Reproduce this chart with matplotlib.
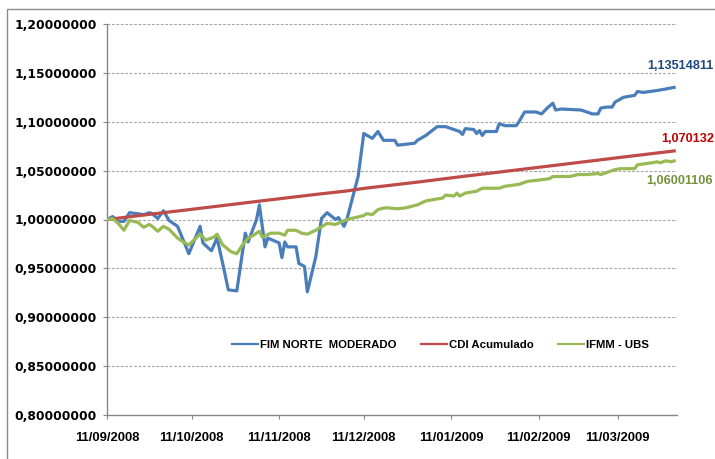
import pandas as pd
import matplotlib
matplotlib.use("Agg")
import matplotlib.pyplot as plt
import matplotlib.dates as mdates
from matplotlib.patches import Rectangle

# FIM NORTE MODERADO
fim_dates = ["2008-09-11", "2008-09-13", "2008-09-15", "2008-09-17", "2008-09-19",
             "2008-09-24", "2008-09-26", "2008-09-27", "2008-09-29", "2008-10-01",
             "2008-10-03", "2008-10-06", "2008-10-10", "2008-10-14", "2008-10-15",
             "2008-10-18", "2008-10-20", "2008-10-22", "2008-10-24", "2008-10-27",
             "2008-10-30", "2008-10-31", "2008-11-03", "2008-11-04", "2008-11-06",
             "2008-11-07", "2008-11-11", "2008-11-12", "2008-11-13", "2008-11-14",
             "2008-11-17", "2008-11-18", "2008-11-20", "2008-11-21", "2008-11-24",
             "2008-11-26", "2008-11-28", "2008-12-01", "2008-12-02", "2008-12-04",
             "2008-12-05", "2008-12-09", "2008-12-11", "2008-12-14", "2008-12-16",
             "2008-12-18", "2008-12-22", "2008-12-23", "2008-12-29", "2008-12-30",
             "2009-01-02", "2009-01-06", "2009-01-09", "2009-01-14", "2009-01-15",
             "2009-01-16", "2009-01-19", "2009-01-20", "2009-01-21", "2009-01-22",
             "2009-01-23", "2009-01-27", "2009-01-28", "2009-01-30", "2009-02-03",
             "2009-02-04", "2009-02-06", "2009-02-10", "2009-02-12", "2009-02-14",
             "2009-02-16", "2009-02-17", "2009-02-19", "2009-02-26", "2009-03-02",
             "2009-03-04", "2009-03-05", "2009-03-07", "2009-03-09", "2009-03-10",
             "2009-03-13", "2009-03-17", "2009-03-18", "2009-03-20", "2009-03-25",
             "2009-03-27", "2009-03-31"]
fim_values = [1.000, 1.003, 0.998, 0.998, 1.007,
              1.005, 1.007, 1.006, 1.001, 1.009,
              0.999, 0.993, 0.965, 0.993, 0.976,
              0.968, 0.981, 0.955, 0.928, 0.927,
              0.986, 0.977, 1.000, 1.015, 0.972,
              0.981, 0.976, 0.961, 0.977, 0.972,
              0.972, 0.955, 0.952, 0.926, 0.962,
              1.001, 1.007, 1.000, 1.002, 0.993,
              1.000, 1.044, 1.088, 1.083, 1.090,
              1.081, 1.081, 1.076, 1.078, 1.081,
              1.086, 1.095, 1.095, 1.090, 1.087,
              1.093, 1.092, 1.088, 1.091, 1.086,
              1.090, 1.090, 1.098, 1.096, 1.096,
              1.100, 1.110, 1.110, 1.108, 1.114,
              1.119, 1.112, 1.113, 1.112, 1.108,
              1.108, 1.114, 1.115, 1.115, 1.120,
              1.125, 1.127, 1.131, 1.130, 1.132,
              1.133, 1.13514811]

# CDI Acumulado
cdi_dates = ["2008-09-11", "2008-09-25", "2008-10-11", "2008-10-27", "2008-11-11",
             "2008-11-25", "2008-12-05", "2008-12-11", "2008-12-31", "2009-01-15",
             "2009-02-01", "2009-02-15", "2009-03-01", "2009-03-15", "2009-03-31"]
cdi_values = [1.000, 1.0049, 1.0104, 1.0160, 1.0212,
              1.0260, 1.0292, 1.0318, 1.0386, 1.0440,
              1.0499, 1.0548, 1.0597, 1.0646, 1.070132]

# IFMM - UBS
ifmm_dates = ["2008-09-11", "2008-09-13", "2008-09-15", "2008-09-17", "2008-09-19",
              "2008-09-22", "2008-09-24", "2008-09-26", "2008-09-27", "2008-09-29",
              "2008-10-01", "2008-10-03", "2008-10-06", "2008-10-08", "2008-10-10",
              "2008-10-14", "2008-10-16", "2008-10-19", "2008-10-20", "2008-10-22",
              "2008-10-25", "2008-10-27", "2008-10-29", "2008-10-31", "2008-11-02",
              "2008-11-04", "2008-11-05", "2008-11-08", "2008-11-11", "2008-11-13",
              "2008-11-14", "2008-11-17", "2008-11-19", "2008-11-21", "2008-11-24",
              "2008-11-28", "2008-12-01", "2008-12-05", "2008-12-08", "2008-12-11",
              "2008-12-12", "2008-12-14", "2008-12-16", "2008-12-17", "2008-12-19",
              "2008-12-23", "2008-12-26", "2008-12-30", "2009-01-02", "2009-01-06",
              "2009-01-08", "2009-01-09", "2009-01-12", "2009-01-13", "2009-01-14",
              "2009-01-16", "2009-01-20", "2009-01-22", "2009-01-26", "2009-01-28",
              "2009-01-30", "2009-02-04", "2009-02-07", "2009-02-13", "2009-02-15",
              "2009-02-16", "2009-02-22", "2009-02-25", "2009-02-28", "2009-03-04",
              "2009-03-05", "2009-03-07", "2009-03-10", "2009-03-12", "2009-03-17",
              "2009-03-18", "2009-03-23", "2009-03-25", "2009-03-26", "2009-03-28",
              "2009-03-30", "2009-03-31"]
ifmm_values = [1.000, 1.001, 0.996, 0.989, 0.999,
               0.997, 0.992, 0.995, 0.993, 0.988,
               0.993, 0.990, 0.981, 0.977, 0.974,
               0.985, 0.979, 0.982, 0.985, 0.974,
               0.967, 0.965, 0.974, 0.981, 0.984,
               0.988, 0.982, 0.986, 0.986, 0.984,
               0.989, 0.989, 0.986, 0.985, 0.989,
               0.996, 0.995, 1.000, 1.002, 1.004,
               1.006, 1.005, 1.010, 1.011, 1.012,
               1.011, 1.012, 1.015, 1.019, 1.021,
               1.022, 1.025, 1.024, 1.027, 1.024,
               1.027, 1.029, 1.032, 1.032, 1.032,
               1.034, 1.036, 1.039, 1.041, 1.042,
               1.044, 1.044, 1.046, 1.046, 1.047,
               1.046, 1.048, 1.051, 1.052, 1.052,
               1.056, 1.058, 1.059, 1.058, 1.060,
               1.059, 1.06001106]

series_names = ["FIM NORTE  MODERADO", "CDI Acumulado", "IFMM - UBS"]
series_colors = ["#4A7EBB", "#BE4B48", "#98B954"]
end_labels = ["1,13514811", "1,070132", "1,06001106"]
end_label_colors = ["#1F497D", "#C00000", "#76923C"]

tick_dates = ["2008-09-11", "2008-10-11", "2008-11-11", "2008-12-11",
              "2009-01-11", "2009-02-11", "2009-03-11"]
y_ticks = [0.80, 0.85, 0.90, 0.95, 1.00, 1.05, 1.10, 1.15, 1.20]

W, H = 715, 459
fig = plt.figure(figsize=(W / 100, H / 100), dpi=100)
fig.patch.set_facecolor("white")

# chart frame like the spreadsheet chart border
fig.patches.append(Rectangle((7 / W, -0.1), 1.2, 1 - 9 / H + 0.1, transform=fig.transFigure,
                             fill=False, edgecolor="#8C8C8C", linewidth=1.0))

ax = fig.add_axes([107 / W, 1 - 415 / H, (677 - 107) / W, (415 - 24) / H])

xs = [pd.to_datetime(fim_dates), pd.to_datetime(cdi_dates), pd.to_datetime(ifmm_dates)]
ys = [fim_values, cdi_values, ifmm_values]
for x, y, name, c in zip(xs, ys, series_names, series_colors):
    ax.plot(x, y, color=c, lw=2.3, label=name, solid_joinstyle="round", zorder=3)

ax.set_xlim(pd.Timestamp("2008-09-11"), pd.Timestamp("2009-04-01"))
ax.set_ylim(0.80, 1.20)
ax.set_yticks(y_ticks)
ax.set_yticklabels([f"{v:.8f}".replace(".", ",") for v in y_ticks],
                   fontfamily="DejaVu Sans", fontweight="bold", fontsize=8.8)
ax.set_xticks(pd.to_datetime(tick_dates))
ax.xaxis.set_major_formatter(mdates.DateFormatter("%d/%m/%Y"))
for lab in ax.get_xticklabels():
    lab.set_fontfamily("Liberation Sans")
    lab.set_fontweight("bold")
    lab.set_fontsize(9.4)

ax.grid(axis="y", color="#A6A6A6", linestyle=(0, (2.5, 1.5)), linewidth=0.8, zorder=0)
ax.set_axisbelow(True)
for s in ["top", "right"]:
    ax.spines[s].set_visible(False)
for s in ["left", "bottom"]:
    ax.spines[s].set_color("#868686")
    ax.spines[s].set_linewidth(1.0)
ax.tick_params(axis="y", length=3, color="#868686", pad=4.3, labelcolor="black")
ax.tick_params(axis="x", length=3, color="#868686", pad=9.5, labelcolor="black")

leg = ax.legend(loc="center", bbox_to_anchor=(0.585, 0.178), ncol=3, frameon=False,
                handlelength=2.3, handletextpad=0.18, columnspacing=2.1,
                prop={"family": "Liberation Sans", "weight": "bold", "size": 8.2})
for line in leg.get_lines():
    line.set_linewidth(1.6)

# end value labels, right aligned so they stay inside the picture
label_pos = [(713, 66), (714, 139), (713, 181)]
for (px, py), txt, c in zip(label_pos, end_labels, end_label_colors):
    fig.text(px / W, 1 - py / H, txt, color=c, fontfamily="Liberation Sans",
             fontweight="bold", fontsize=9.2, ha="right", va="center")

fig.savefig("out.png", dpi=100)
